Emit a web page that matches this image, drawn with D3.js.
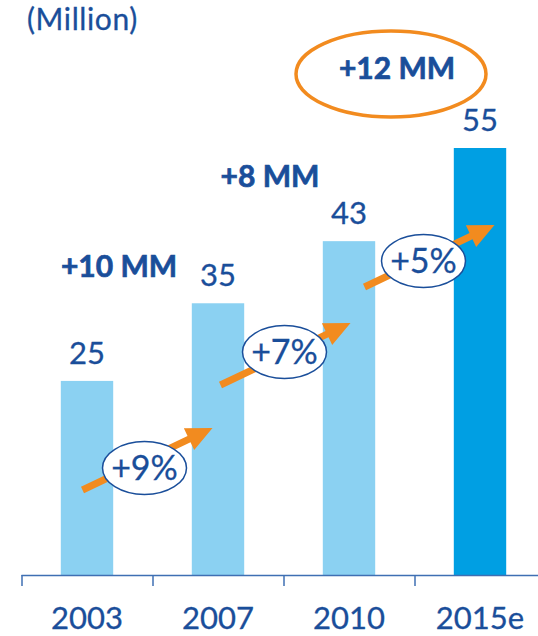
<!DOCTYPE html>
<html>
<head>
<meta charset="utf-8">
<script src="https://cdn.jsdelivr.net/npm/d3@7"></script>
<style>
  html, body { margin: 0; padding: 0; background: #fff; }
  svg { display: block; font-family: Lato, "Open Sans", sans-serif; }
  .med { stroke: #1a4e9a; stroke-width: 0.3px; }
  .heavy { stroke: #1a4e9a; stroke-width: 0.7px; }
</style>
</head>
<body>
<svg id="chart" width="538" height="636"></svg>
<script>
// Subscribers by year (million)
const years = ["2003", "2007", "2010", "2015e"];
const values = [25, 35, 43, 55];
const isEstimate = [false, false, false, true];
// Annual growth between consecutive years
const growthLabels = ["+9%", "+7%", "+5%"];
// Absolute increase between consecutive years
const increaseLabels = ["+10 MM", "+8 MM", "+12 MM"];
const unitLabel = "(Million)";

const W = 538, H = 636;
const TEXT = "#1a4e9a";
const AXIS = "#3f6fb3";
const ORANGE = "#f28b1f";
const LIGHT = "#8bd1f2";
const DARK = "#009fe3";

const svg = d3.select("#chart");

const x = d3.scaleBand()
  .domain(years)
  .range([21.5, 545.5])
  .paddingInner(0.6)
  .paddingOuter(0.3);

const y = d3.scaleLinear()
  .domain([0, 55])
  .range([575, 148]);

const step = x.step();
const cx = d => x(d) + x.bandwidth() / 2;

// Unit caption
svg.append("text")
  .attr("class", "med")
  .attr("x", 27).attr("y", 30)
  .attr("font-size", 30)
  .attr("letter-spacing", 0.6)
  .attr("fill", TEXT)
  .text(unitLabel);

// Bars
svg.selectAll("rect.bar")
  .data(years)
  .join("rect")
  .attr("class", "bar")
  .attr("x", d => x(d))
  .attr("width", x.bandwidth())
  .attr("y", (d, i) => y(values[i]))
  .attr("height", (d, i) => y(0) - y(values[i]))
  .attr("fill", (d, i) => isEstimate[i] ? DARK : LIGHT);

// Value labels
svg.selectAll("text.val")
  .data(years)
  .join("text")
  .attr("class", "val med")
  .attr("x", d => cx(d))
  .attr("y", (d, i) => y(values[i]) - 17)
  .attr("text-anchor", "middle")
  .attr("font-size", 31)
  .attr("fill", TEXT)
  .text((d, i) => values[i]);

// Baseline with tick marks between categories
const axisG = svg.append("g").attr("stroke", AXIS).attr("stroke-width", 1.5);
axisG.append("line")
  .attr("x1", x.range()[0]).attr("x2", W)
  .attr("y1", y(0) + 0.5).attr("y2", y(0) + 0.5);
const tickXs = years.map(d => cx(d) - step / 2);
axisG.selectAll("line.tick")
  .data(tickXs)
  .join("line")
  .attr("class", "tick")
  .attr("x1", d => d + 0.5).attr("x2", d => d + 0.5)
  .attr("y1", y(0)).attr("y2", y(0) + 11);

// Category labels
svg.selectAll("text.year")
  .data(years)
  .join("text")
  .attr("class", "year med")
  .attr("x", d => cx(d))
  .attr("y", 629)
  .attr("text-anchor", "middle")
  .attr("font-size", 31)
  .attr("fill", TEXT)
  .text(d => d);

// Growth arrows between bars, each with an oval badge
const arrowDX = [-5, 2, 15];     // horizontal shift of each arrow from the gap centre
const arrowMidY = [459, 354, 256];
const badgeDX = [-8, 1, 9];
const badgeY = [468, 352, 261];

function arrowPath(x0, y0, x1, y1) {
  const ang = Math.atan2(y1 - y0, x1 - x0);
  const len = Math.hypot(x1 - x0, y1 - y0);
  const hw = 3.5, headLen = 26, headW = 12;
  const pts = [
    [0, -hw], [len - headLen, -hw], [len - headLen, -headW],
    [len, 0],
    [len - headLen, headW], [len - headLen, hw], [0, hw]
  ].map(([u, v]) => [
    x0 + u * Math.cos(ang) - v * Math.sin(ang),
    y0 + u * Math.sin(ang) + v * Math.cos(ang)
  ]);
  return "M" + pts.map(p => p.join(",")).join("L") + "Z";
}

growthLabels.forEach((lab, i) => {
  const gapX = cx(years[i]) + step / 2;
  const mx = gapX + arrowDX[i], my = arrowMidY[i];
  svg.append("path")
    .attr("d", arrowPath(mx - 65, my + 31, mx + 65, my - 31))
    .attr("fill", ORANGE);

  const bx = gapX + badgeDX[i], by = badgeY[i];
  svg.append("ellipse")
    .attr("cx", bx).attr("cy", by)
    .attr("rx", 42).attr("ry", 26.5)
    .attr("fill", "#fff")
    .attr("stroke", TEXT)
    .attr("stroke-width", 1.5);
  svg.append("text")
    .attr("class", "med")
    .attr("x", bx).attr("y", by + 12)
    .attr("text-anchor", "middle")
    .attr("font-size", 34)
    .attr("fill", TEXT)
    .text(lab);
});

// Absolute increase labels
const incPos = [[119, 277], [270, 187], [397, 79]];
increaseLabels.forEach((lab, i) => {
  svg.append("text")
    .attr("class", "heavy")
    .attr("x", incPos[i][0]).attr("y", incPos[i][1])
    .attr("text-anchor", "middle")
    .attr("font-size", 30)
    .attr("font-weight", 700)
    .attr("fill", TEXT)
    .text(lab);
});

// Highlight ring around the latest increase
svg.append("ellipse")
  .attr("cx", 391).attr("cy", 74)
  .attr("rx", 95).attr("ry", 43)
  .attr("fill", "none")
  .attr("stroke", ORANGE)
  .attr("stroke-width", 3.5);
</script>
</body>
</html>
